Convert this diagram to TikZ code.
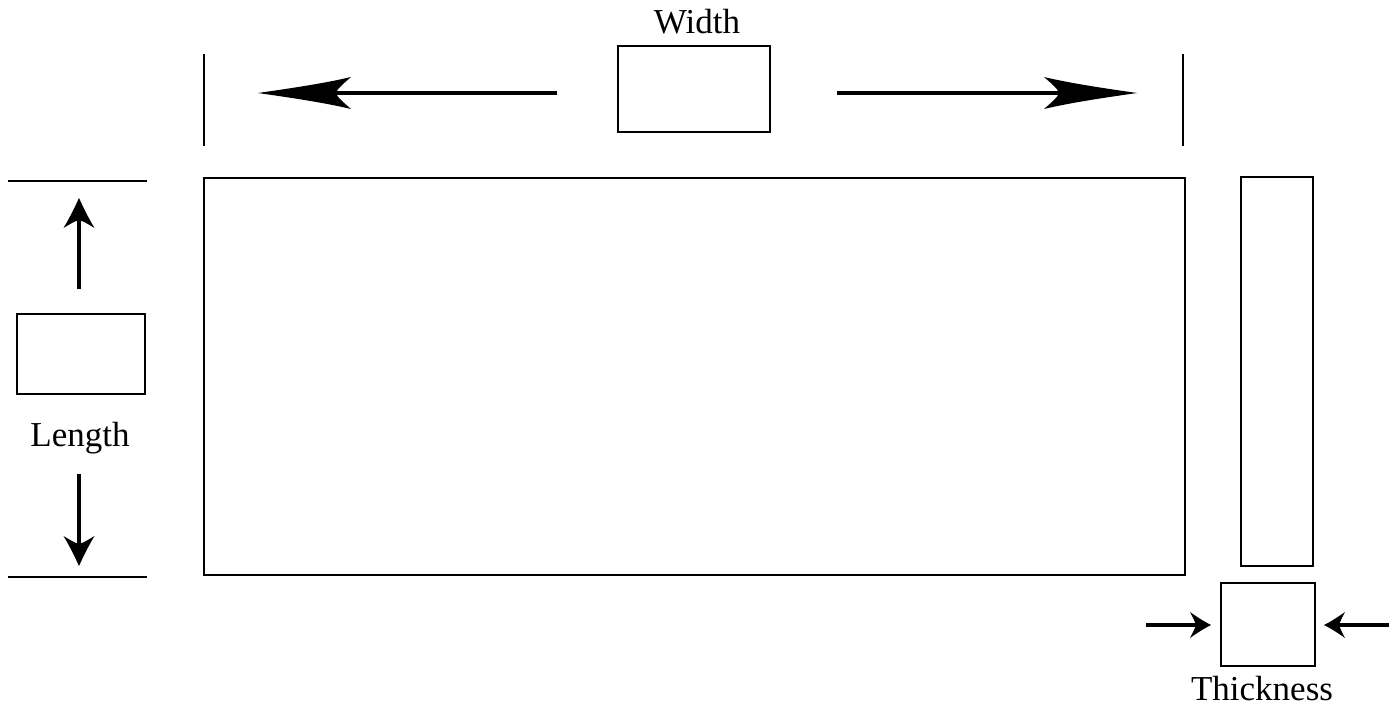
\documentclass[tikz,border=0pt]{standalone}
\usepackage{fontspec}
\setmainfont{Liberation Serif}
\begin{document}
\begin{tikzpicture}[x=1pt,y=-1pt,
  box/.style={draw,line width=2.6pt,inner sep=0pt},
  shaft/.style={line width=4.2pt},
  tick/.style={line width=2.6pt},
  lbl/.style={font=\fontsize{35}{38}\selectfont,inner sep=0pt},
  bighead/.pic={\fill (0,0) .. controls (-35,-5) and (-68,-10) .. (-93,-16)
      .. controls (-85,-9) and (-79,-4) .. (-78,0)
      .. controls (-79,4) and (-85,9) .. (-93,16)
      .. controls (-68,10) and (-35,5) .. (0,0) -- cycle;},
  midhead/.pic={\fill (0,0) .. controls (-10,-4.5) and (-21,-10) .. (-30,-15.5)
      .. controls (-26,-9) and (-23,-4) .. (-22,0)
      .. controls (-23,4) and (-26,9) .. (-30,15.5)
      .. controls (-21,10) and (-10,4.5) .. (0,0) -- cycle;},
  smallhead/.pic={\fill (0,0) .. controls (-7,-3.5) and (-14,-8) .. (-21,-13)
      .. controls (-18,-7.5) and (-16,-3) .. (-15,0)
      .. controls (-16,3) and (-18,7.5) .. (-21,13)
      .. controls (-14,8) and (-7,3.5) .. (0,0) -- cycle;}]
\useasboundingbox (0,0) rectangle (1397,712);
% main rectangle
\node[box,minimum width=981pt,minimum height=397pt] (main) at (694.5,376.5) {};
% width indicator
\node[box,minimum width=152pt,minimum height=86pt] (wbox) at (694,89) {};
\node[lbl] (wlbl) at (697,22) {Width};
\coordinate (wl1) at (204,54); \coordinate (wl2) at (204,146);
\coordinate (wr1) at (1183,54); \coordinate (wr2) at (1183,146);
\draw[tick] (wl1) -- (wl2);
\draw[tick] (wr1) -- (wr2);
\coordinate (wla) at (557,93); \coordinate (wlt) at (258,93);
\coordinate (wra) at (837,93); \coordinate (wrt) at (1137,93);
\draw[shaft,shorten >=70pt] (wla) -- (wlt);
\draw[shaft,shorten >=70pt] (wra) -- (wrt);
\pic[rotate=180] at (wlt) {bighead};
\pic at (wrt) {bighead};
% length indicator
\coordinate (lt1) at (8,181); \coordinate (lt2) at (147,181);
\coordinate (lb1) at (8,577); \coordinate (lb2) at (147,577);
\draw[tick] (lt1) -- (lt2);
\draw[tick] (lb1) -- (lb2);
\node[box,minimum width=128pt,minimum height=80pt] (lbox) at (81,354) {};
\node[lbl] (llbl) at (80,438) {Length};
\coordinate (lua) at (79,289); \coordinate (lut) at (79,198);
\coordinate (lda) at (79,474); \coordinate (ldt) at (79,566);
\draw[shaft,line width=4.6pt,shorten >=18pt] (lua) -- (lut);
\draw[shaft,line width=4.6pt,shorten >=18pt] (lda) -- (ldt);
\pic[rotate=90] at (lut) {midhead};
\pic[rotate=-90] at (ldt) {midhead};
% thickness
\node[box,minimum width=72pt,minimum height=389pt] (thin) at (1277,371.5) {};
\node[box,minimum width=94pt,minimum height=83pt] (sq) at (1268,624.5) {};
\node[lbl] (tlbl) at (1262,689) {Thickness};
\coordinate (tla) at (1146,625); \coordinate (tlt) at (1211,625);
\coordinate (tra) at (1389,625); \coordinate (trt) at (1324,625);
\draw[shaft,shorten >=12pt] (tla) -- (tlt);
\draw[shaft,shorten >=12pt] (tra) -- (trt);
\pic at (tlt) {smallhead};
\pic[rotate=180] at (trt) {smallhead};
\end{tikzpicture}
\end{document}
